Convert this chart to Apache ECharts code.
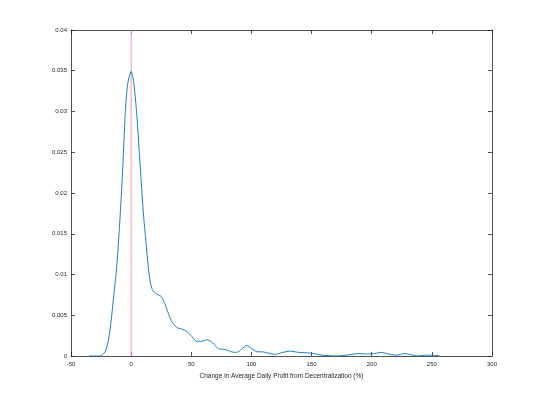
<!DOCTYPE html>
<html>
<head>
<meta charset="utf-8">
<script src="https://cdn.jsdelivr.net/npm/echarts@6/dist/echarts.min.js"></script>
<style>
  html, body { margin: 0; padding: 0; background: #fff; }
  #chart { width: 545px; height: 401px; }
</style>
</head>
<body>
<div id="chart"></div>
<script>
// kernel density estimate
var xVals = [-35, -30, -25.8, -21.6, -18.8, -16.6, -14.7, -11.85, -9.1, -6.87, -4.96, -2.97, 0,
  2.0, 4.7, 7.5, 10.3, 13.05, 15.0, 17.2, 20, 25, 28.3, 31.0, 33.8, 37.9, 42.1, 46.3,
  50.4, 54.6, 58.7, 63.4, 67.9, 72.6, 78.1, 83.7, 87.8, 92, 96.1, 100.3, 104.4, 110, 112.7,
  119.6, 125.1, 132, 139, 145.9, 151.4, 158.3, 170.7, 179, 188.7, 195.6, 202.5, 208, 213.6,
  220.5, 227.4, 232.9, 238.5, 245.4, 251, 256.5]
var density = [0, 0, 0, 0.00053, 0.002, 0.0044, 0.007, 0.0112, 0.0173, 0.0234, 0.0296, 0.0333, 0.0349,
  0.0337, 0.0296, 0.0234, 0.0173, 0.0128, 0.0099, 0.0083, 0.0077, 0.0073, 0.0063, 0.0052, 0.0042, 0.0035, 0.0033, 0.003,
  0.0024, 0.0018, 0.0018, 0.002, 0.0016, 0.0009, 0.0008, 0.0005, 0.00045, 0.00086, 0.0013, 0.0009, 0.00053, 0.0005, 0.0004,
  0.0002, 0.0004, 0.0006, 0.00045, 0.0004, 0.0003, 0.0001, 0, 0.0001, 0.0003, 0.00025, 0.0003, 0.00045, 0.00025,
  0.0001, 0.0003, 0.00015, 0, 0.0001, 0.0001, 0]
var refX = 0
var yMax = 0.04

var pts = xVals.map(function (x, i) { return [x, density[i]] })

var font = 'Liberation Sans, Arial, sans-serif'
var axisColor = '#262626'
var baseAxis = {
  axisLine: { show: true, onZero: false, lineStyle: { color: axisColor, width: 0.8 } },
  axisTick: { show: true, inside: true, length: 4, lineStyle: { color: axisColor, width: 0.8 } },
  splitLine: { show: false }
}

var chart = echarts.init(document.getElementById('chart'), null, { renderer: 'canvas' })
chart.setOption({
  animation: false,
  backgroundColor: '#fff',
  grid: { left: 71, right: 53, top: 30, bottom: 45 },
  xAxis: [
    Object.assign({}, baseAxis, {
      type: 'value', min: -50, max: 300, interval: 50, position: 'bottom',
      name: 'Change in Average Daily Profit from Decentralization (%)',
      nameLocation: 'middle', nameGap: 17,
      nameTextStyle: { fontFamily: font, fontSize: 6.5, color: axisColor },
      axisLabel: { fontFamily: font, fontSize: 6, color: axisColor, margin: 5 }
    }),
    Object.assign({}, baseAxis, {
      type: 'value', min: -50, max: 300, interval: 50, position: 'top',
      axisLabel: { show: false }
    })
  ],
  yAxis: [
    Object.assign({}, baseAxis, {
      type: 'value', min: 0, max: yMax, interval: 0.005, position: 'left',
      axisLabel: { fontFamily: font, fontSize: 6, color: axisColor, margin: 4 }
    }),
    Object.assign({}, baseAxis, {
      type: 'value', min: 0, max: yMax, interval: 0.005, position: 'right',
      axisLabel: { show: false }
    })
  ],
  series: [
    {
      // reference line at zero change
      type: 'line',
      data: [[refX, 0], [refX, yMax]],
      showSymbol: false,
      silent: true,
      z: 1,
      lineStyle: { color: '#ff9c9c', width: 1 }
    },
    {
      type: 'line',
      data: pts,
      showSymbol: false,
      smooth: 0.25,
      z: 2,
      lineStyle: { color: '#0072BD', width: 0.9 }
    }
  ]
})
</script>
</body>
</html>
